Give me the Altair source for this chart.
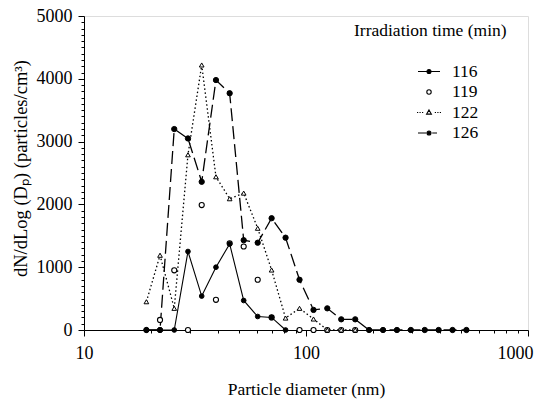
import altair as alt
import pandas as pd

FONT = "Liberation Serif, Times New Roman, serif"

# particle diameters (nm) of the size bins
d116 = [19.1, 22.0, 25.5, 29.4, 33.9, 39.3, 45.3, 52.4, 60.6, 70.0, 80.9]
v116 = [0, 0, 0, 1250, 540, 1000, 1370, 470, 215, 200, 0]

d119 = [22.0, 25.5, 29.4, 33.9, 39.3, 45.3, 52.4, 60.6, 70.0, 93.5, 108.1, 124.7, 144.1, 166.6]
v119 = [160, 950, 0, 1990, 480, 1380, 1330, 800, 200, 0, 0, 0, 0, 0]

d122 = [19.1, 22.0, 25.5, 29.4, 33.9, 39.3, 45.3, 52.4, 60.6, 70.0, 80.9, 93.5, 108.1, 124.7, 144.1, 166.6]
v122 = [450, 1190, 345, 2790, 4220, 2440, 2090, 2180, 1620, 955, 190, 345, 175, 0, 0, 0]

d126 = [19.1, 22.0, 25.5, 29.4, 33.9, 39.3, 45.3, 52.4, 60.6, 70.0, 80.9, 93.5, 108.1, 124.7,
        144.1, 166.6, 192.4, 222.3, 256.8, 296.6, 342.6, 395.8, 457.1, 527.9]
v126 = [0, 0, 3200, 3050, 2360, 3980, 3770, 1430, 1390, 1780, 1470, 800, 320, 345,
        170, 170, 0, 0, 0, 0, 0, 0, 0, 0]

series_names = ["116", "119", "122", "126"]
x_tick_values = [10, 20, 30, 40, 50, 60, 70, 80, 90, 100, 200, 300, 400, 500, 600, 700, 800, 900, 1000]
y_tick_values = list(range(0, 5001, 100))

rows = []
for name, ds, vs in [("116", d116, v116), ("119", d119, v119), ("122", d122, v122), ("126", d126, v126)]:
    for d, v in zip(ds, vs):
        rows.append({"series": name, "d": d, "v": v})
df = pd.DataFrame(rows)

major_x = "datum.value == 10 || datum.value == 100 || datum.value == 1000"
xaxis = alt.Axis(
    values=x_tick_values,
    labelExpr=f"({major_x}) ? format(datum.value, 'd') : ''",
    tickSize={"condition": {"test": major_x, "value": 6}, "value": 3},
    labelAlign={"condition": {"test": "datum.value == 1000", "value": "right"}, "value": "center"},
    labelOffset={"condition": {"test": "datum.value == 1000", "value": 5}, "value": 0},
    grid=False, domainColor="black", tickColor="black", labelColor="black", titleColor="black",
    labelFont=FONT, titleFont=FONT, labelFontSize=18, titleFontSize=17.5, titleFontWeight="normal",
    labelPadding=8, titlePadding=18, labelFlush=False, labelOverlap=False,
)
yaxis = alt.Axis(
    values=y_tick_values,
    labelExpr="datum.value % 1000 == 0 ? format(datum.value, 'd') : ''",
    tickSize={"condition": {"test": "datum.value % 1000 == 0", "value": 6}, "value": 3},
    grid=False, domainColor="black", tickColor="black", labelColor="black", titleColor="black",
    labelFont=FONT, titleFont=FONT, labelFontSize=18, titleFontSize=18.5, titleFontWeight="normal",
    labelPadding=6, titlePadding=6, labelOverlap=False, titleY=152,
)

X = alt.X("d:Q", scale=alt.Scale(type="log", domain=[10, 1000], nice=False), axis=xaxis,
          title="Particle diameter (nm)")
Y = alt.Y("v:Q", scale=alt.Scale(domain=[0, 5000], nice=False), axis=yaxis,
          title="dN/dLog (Dₚ) (particles/cm³)")


def sub(name):
    return alt.Chart(df).transform_filter(f"datum.series == '{name}'")


l116 = sub("116").mark_line(color="black", strokeWidth=1.1).encode(X, Y)
l122 = sub("122").mark_line(color="black", strokeWidth=1.3, strokeDash=[1.5, 2.5]).encode(X, Y)
l126 = sub("126").mark_line(color="black", strokeWidth=1.3, strokeDash=[13, 5]).encode(X, Y)

p116 = sub("116").mark_point(shape="circle", fill="black", stroke="black", size=22, opacity=1, strokeWidth=1).encode(X, Y)
p119 = sub("119").mark_point(shape="circle", fill="white", stroke="black", size=26, opacity=1, strokeWidth=1.1).encode(X, Y)
p122 = sub("122").mark_point(shape="triangle-up", fill="white", stroke="black", size=22, opacity=1, strokeWidth=1).encode(X, Y)
p126 = sub("126").mark_point(shape="circle", fill="black", stroke="black", size=28, opacity=1, strokeWidth=1).encode(X, Y)

dot = "M-0.2,0A0.2,0.2,0,1,0,0.2,0A0.2,0.2,0,1,0,-0.2,0Z"
legend_paths = [
    "M-1.1,0H1.1" + dot,
    "M-0.22,0A0.22,0.22,0,1,0,0.22,0A0.22,0.22,0,1,0,-0.22,0Z",
    "M-1.2,0H-1.08M-0.95,0H-0.83M-0.7,0H-0.58M0.58,0H0.7M0.83,0H0.95M1.08,0H1.2M0,-0.26L0.24,0.16L-0.24,0.16Z",
    "M-1.1,0H-0.28M0.32,0H0.8" + dot,
]
legend_title = "Irradiation time (min)"

legend_props = dict(
    orient="none", legendX=270, legendY=6, padding=0,
    titleFont=FONT, titleFontSize=17.5, titleFontWeight="normal", titleColor="black", titleLimit=400,
    titlePadding=21,
    labelFont=FONT, labelFontSize=17.5, labelColor="black",
    symbolSize=400, symbolOffset=64, labelOffset=12, rowPadding=0.5,
    symbolStrokeWidth=1.1, symbolStrokeColor="black", symbolOpacity=1,
)

leg = alt.Chart(df).mark_point(filled=True, strokeWidth=1.1, opacity=0).encode(
    X, Y,
    shape=alt.Shape("series:N", scale=alt.Scale(domain=series_names, range=legend_paths),
                    title=legend_title, legend=alt.Legend(**legend_props)),
    fill=alt.Fill("series:N", scale=alt.Scale(domain=series_names, range=["black", "white", "white", "black"]),
                  title=legend_title, legend=alt.Legend(**legend_props)),
    stroke=alt.Stroke("series:N", scale=alt.Scale(domain=series_names, range=["black"] * 4),
                      title=legend_title, legend=alt.Legend(**legend_props)),
)

chart = alt.layer(l116, l122, l126, p119, p122, p116, p126, leg).properties(
    width=444, height=314,
    autosize=alt.AutoSizeParams(type="none"),
    padding={"left": 84, "top": 16, "right": 8, "bottom": 76},
).configure_view(stroke="black", strokeWidth=1).configure_axis(
    labelFont=FONT, titleFont=FONT
).configure(background="white", font=FONT)

chart.save("out.html", embed_options={"renderer": "svg", "actions": False})
